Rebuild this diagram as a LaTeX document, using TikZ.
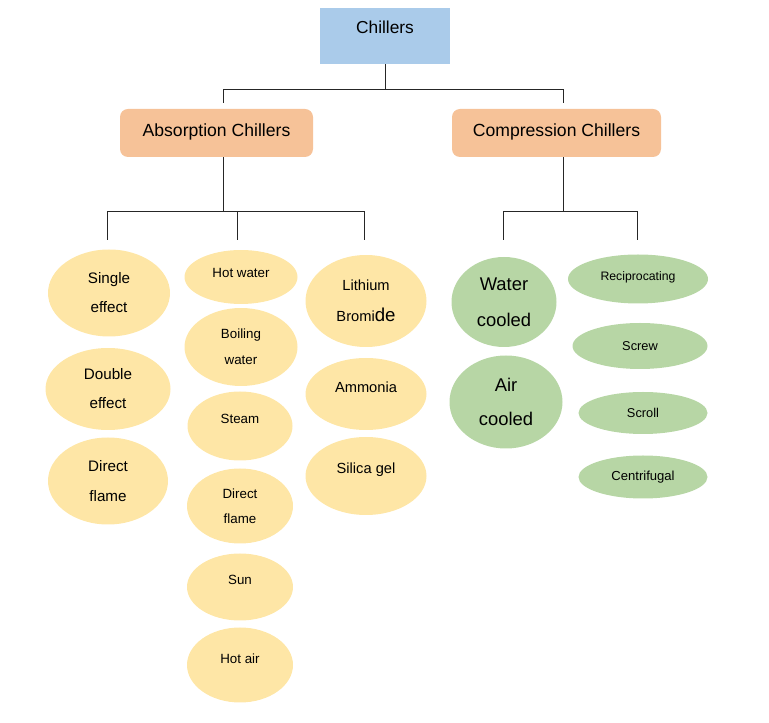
\documentclass[tikz,border=0pt]{standalone}
\usepackage{fontspec}
\setmainfont{Liberation Sans}
\usetikzlibrary{positioning, shapes.geometric}
\definecolor{chillblue}{RGB}{170,203,234}
\definecolor{chillorange}{RGB}{246,194,152}
\definecolor{chillyellow}{RGB}{254,230,166}
\definecolor{chillgreen}{RGB}{183,214,165}

\begin{document}
\begin{tikzpicture}[x=0.75pt, y=-0.75pt,
    link/.style={draw=black!85, line width=0.75pt},
    dims/.style 2 args={minimum width=#1*0.75pt, minimum height=#2*0.75pt},
    raised/.style={text depth=#1},
    kindbox/.style={fill=chillorange, rounded corners=6pt, inner sep=0pt,
        font=\fontsize{13.2}{16}\selectfont, text depth=4pt},
    pill/.style={ellipse, fill=chillyellow, inner sep=0pt, align=center},
    leaf/.style={ellipse, fill=chillgreen, inner sep=0pt, align=center}]

    \useasboundingbox (0,0) rectangle (769,723);

    % top of the tree
    \node[fill=chillblue, dims={130}{56}, inner sep=0pt, text depth=12.5pt,
        font=\fontsize{13}{16}\selectfont] (root) at (385,36) {Chillers};
    \node[kindbox, dims={193}{48}] (abs) at (216.5,133) {Absorption Chillers};
    \node[kindbox, dims={209}{48}] (comp) at (556.5,133) {Compression Chillers};

    % absorption: number of effects
    \node[pill, dims={122}{87}, font=\fontsize{11.4}{21.8}\selectfont] (single) at (109,293) {Single\\effect};
    \node[pill, dims={125}{82}, font=\fontsize{11.4}{21.8}\selectfont] (double) at (108,389) {Double\\effect};
    \node[pill, dims={120}{87}, font=\fontsize{11.4}{22.5}\selectfont] (flameA) at (108,481) {Direct\\flame};

    % absorption: heat source
    \node[pill, dims={113}{54}, font=\fontsize{10}{19.5}\selectfont, raised=6pt] (hotwater) at (241,277) {Hot water};
    \node[pill, dims={113}{78}, font=\fontsize{10}{19.5}\selectfont] (boiling) at (241,347) {Boiling\\water};
    \node[pill, dims={105}{69}, font=\fontsize{10}{19.5}\selectfont, raised=11pt] (steam) at (240,426) {Steam};
    \node[pill, dims={106}{75}, font=\fontsize{10}{19}\selectfont] (flameB) at (240,506) {Direct\\flame};
    \node[pill, dims={106}{67}, font=\fontsize{10}{19.5}\selectfont, raised=10pt] (sun) at (240,587) {Sun};
    \node[pill, dims={106}{75}, font=\fontsize{10}{19.5}\selectfont, raised=10pt] (hotair) at (240,665) {Hot air};

    % absorption: working pair
    \node[pill, dims={121}{92}, font=\fontsize{11}{23}\selectfont] (libr) at (366,301)
        {Lithium\\Bromi{\fontsize{14}{23}\selectfont de}};
    \node[pill, dims={121}{72}, font=\fontsize{11}{22}\selectfont, raised=10.5pt] (ammonia) at (366,394) {Ammonia};
    \node[pill, dims={121}{78}, font=\fontsize{11}{22}\selectfont, raised=11pt] (silica) at (366,476) {Silica gel};

    % compression: condenser
    \node[leaf, dims={105}{90}, font=\fontsize{13.8}{27}\selectfont] (water) at (504,302) {Water\\cooled};
    \node[leaf, dims={113}{93}, font=\fontsize{13.8}{26}\selectfont] (air) at (506,402) {Air\\cooled};

    % compression: compressor type
    \node[leaf, dims={140}{49}, font=\fontsize{9.2}{12}\selectfont, raised=5pt] (recip) at (638,279) {Reciprocating};
    \node[leaf, dims={135}{46}, font=\fontsize{9.6}{12}\selectfont] (screw) at (640,346) {Screw};
    \node[leaf, dims={129}{42}, font=\fontsize{9.6}{12}\selectfont] (scroll) at (643,413) {Scroll};
    \node[leaf, dims={129}{43}, font=\fontsize{9.8}{12}\selectfont] (centri) at (643,477) {Centrifugal};

    % connectors
    \draw[link] (root.south) -- ++(0,25) coordinate (rootbar);
    \draw[link, shorten >=4.5pt] (rootbar) -| ([xshift=5pt]abs.north);
    \draw[link, shorten >=4.5pt] (rootbar) -| ([xshift=5.6pt]comp.north);

    \draw[link] ([xshift=5pt]abs.south) -- ++(0,54) coordinate (absbar);
    \draw[link, shorten >=7pt] (absbar) -| ([xshift=-1.5pt]single.north);
    \draw[link, shorten >=7.5pt] (absbar) -| ([xshift=-3pt]hotwater.north);
    \draw[link, shorten >=11pt] (absbar) -| ([xshift=-1.5pt]libr.north);

    \draw[link] ([xshift=5.6pt]comp.south) -- ++(0,54) coordinate (compbar);
    \draw[link, shorten >=12.5pt] (compbar) -| ([xshift=-0.75pt]water.north);
    \draw[link, shorten >=11pt] (compbar) -| ([xshift=-0.75pt]recip.north);
\end{tikzpicture}
\end{document}
